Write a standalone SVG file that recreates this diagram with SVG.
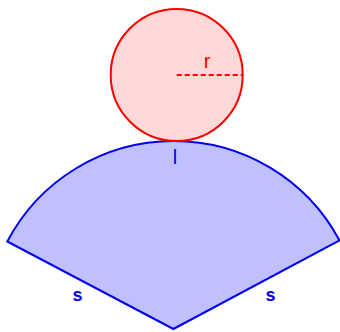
<svg xmlns="http://www.w3.org/2000/svg" width="340" height="332" viewBox="0 0 340 332">
<style>
.lbl{font-family:"Liberation Sans",Arial,sans-serif;font-size:20px;text-anchor:middle}
.blue{fill:#0000ee}
.red{fill:#ee0000}
</style>
<rect width="340" height="332" fill="#ffffff"/>
<g id="sector">
<path d="M173.4,329 L7.3,241.5 A188,188 0 0 1 339.5,240.5 Z" fill="#c0c0ff" stroke="#0000ee" stroke-width="2" stroke-linejoin="miter"/>
<text class="lbl blue" x="175" y="164">l</text>
<text class="lbl blue" x="77.5" y="300.5" style="font-weight:bold;font-size:18px">s</text>
<text class="lbl blue" x="270.5" y="300.5" style="font-weight:bold;font-size:18px">s</text>
</g>
<g id="circle">
<circle cx="176.7" cy="75" r="66" fill="#ffd8d8" stroke="#ff0000" stroke-width="2"/>
<line x1="176.7" y1="75" x2="242.7" y2="75" stroke="#ff0000" stroke-width="2" stroke-dasharray="5,3"/>
<text class="lbl red" x="207" y="68">r</text>
</g>
</svg>
